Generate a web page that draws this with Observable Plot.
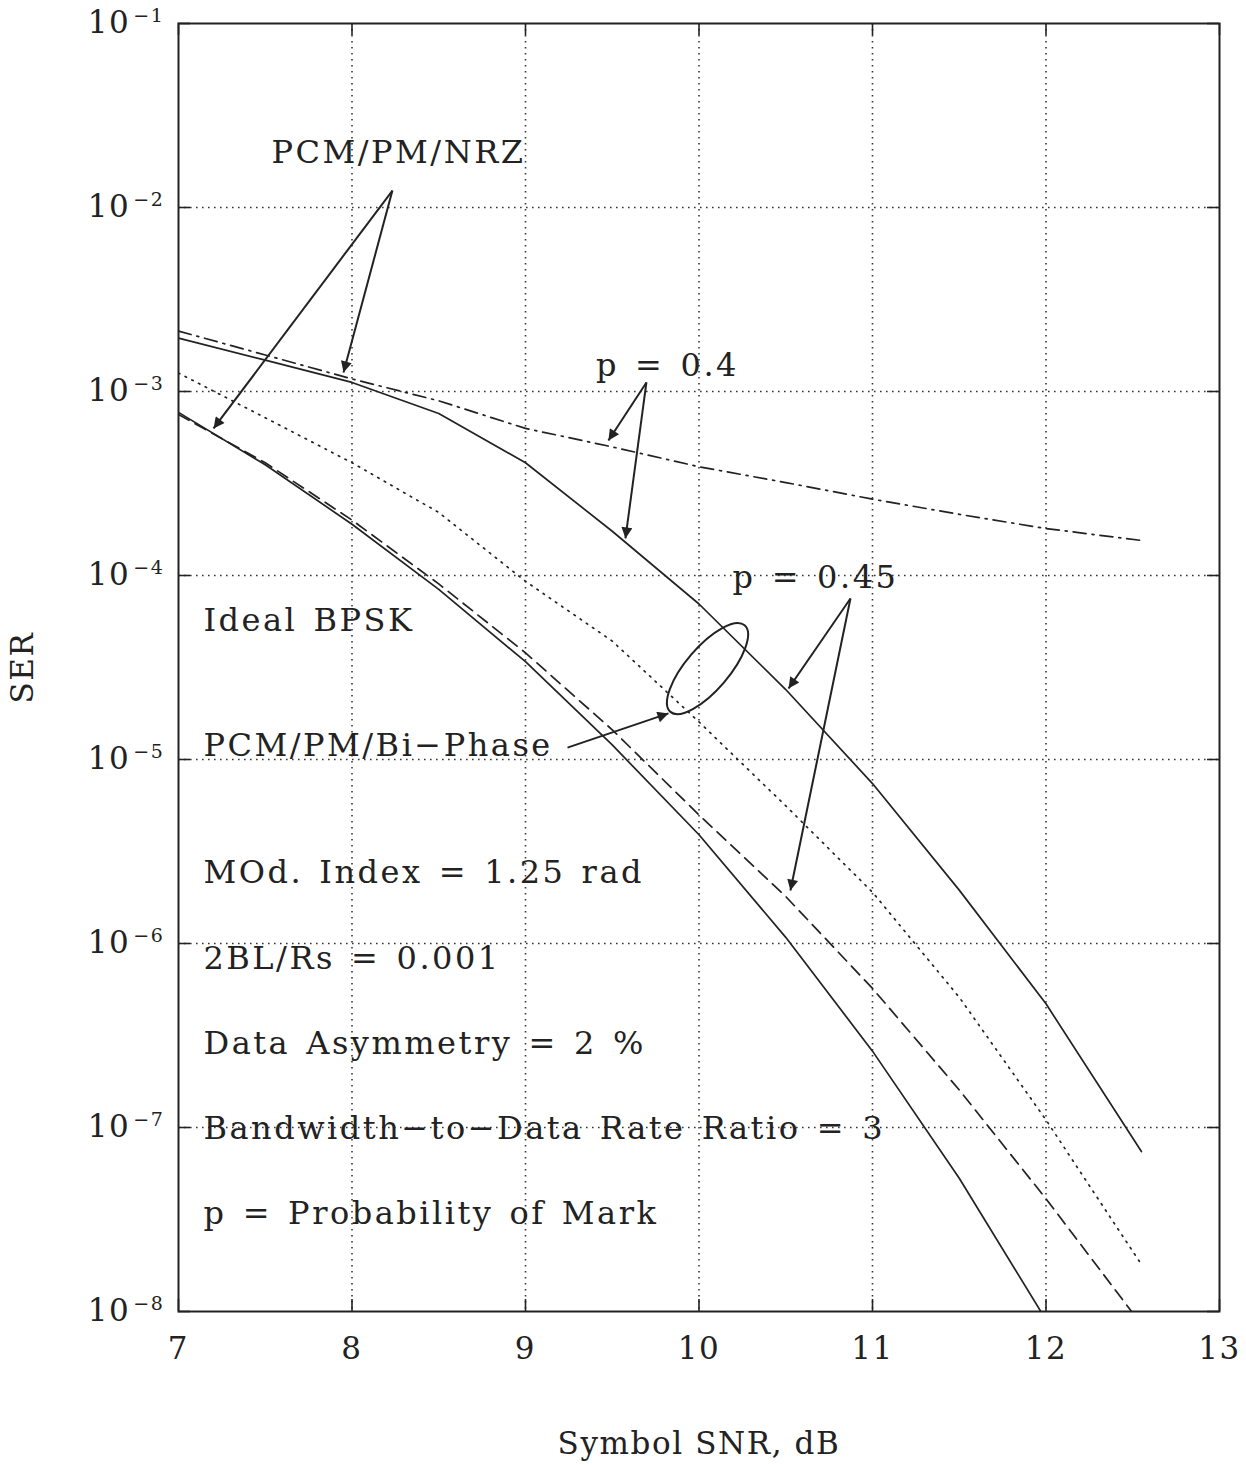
<!DOCTYPE html>
<html><head><meta charset="utf-8">
<script src="https://cdn.jsdelivr.net/npm/d3@7"></script>
<script src="https://cdn.jsdelivr.net/npm/@observablehq/plot@0.6"></script>
<style>
html,body{margin:0;padding:0;background:#fff;}
svg text{white-space:pre;}
g[aria-label="text"] text{letter-spacing:2.5px;word-spacing:3.5px;}
</style>
</head><body><div id="chart"></div>
<script>
// ---- data ----
const snr = [7, 7.5, 8, 8.5, 9, 9.5, 10, 10.5, 11, 11.5, 12, 12.55];
// solid, lowest curve (Ideal BPSK)
const serIdealBPSK   = [7.7e-4, 4.0e-4, 1.9e-4, 8.4e-5, 3.4e-5, 1.2e-5, 3.9e-6, 1.08e-6, 2.6e-7, 5.3e-8, 9.0e-9, null];
// dashed curve
const serDashed      = [7.5e-4, 4.1e-4, 2.0e-4, 9.0e-5, 3.8e-5, 1.45e-5, 5.0e-6, 1.8e-6, 5.7e-7, 1.6e-7, 4.1e-8, 8.5e-9];
// dotted curve
const serDotted      = [1.26e-3, 7.2e-4, 4.1e-4, 2.2e-4, 9.3e-5, 4.4e-5, 1.6e-5, 5.6e-6, 1.9e-6, 5.1e-7, 1.1e-7, 1.8e-8];
// upper solid curve
const serUpperSolid  = [1.95e-3, 1.48e-3, 1.12e-3, 7.6e-4, 4.1e-4, 1.74e-4, 7.0e-5, 2.4e-5, 7.4e-6, 1.95e-6, 4.7e-7, 7.4e-8];
// dash-dot curve
const serDashDot     = [2.13e-3, 1.58e-3, 1.17e-3, 8.9e-4, 6.3e-4, 5.0e-4, 3.9e-4, 3.2e-4, 2.6e-4, 2.15e-4, 1.8e-4, 1.55e-4];

const xTicks = [7, 8, 9, 10, 11, 12, 13];
const xGridTicks = [8, 9, 10, 11, 12];
const yTicks = [1e-8, 1e-7, 1e-6, 1e-5, 1e-4, 1e-3, 1e-2, 1e-1];
const yGridTicks = [1e-7, 1e-6, 1e-5, 1e-4, 1e-3, 1e-2];
const yTickExponents = [-8, -7, -6, -5, -4, -3, -2, -1];

// annotation texts (data coordinates)
const leftTexts = ["Ideal BPSK", "PCM/PM/Bi\u2212Phase", "MOd. Index = 1.25 rad", "2BL/Rs = 0.001",
                   "Data Asymmetry = 2 %", "Bandwidth\u2212to\u2212Data Rate Ratio = 3", "p = Probability of Mark"];
const leftTextX = [7.144, 7.144, 7.144, 7.144, 7.144, 7.144, 7.144];
const leftTextY = [5.69e-5, 1.19e-5, 2.43e-6, 8.28e-7, 2.86e-7, 9.9e-8, 3.41e-8];
const midTexts = ["PCM/PM/NRZ", "p = 0.4", "p = 0.45"];
const midTextX = [8.268, 9.818, 10.671];
const midTextY = [1.99e-2, 1.38e-3, 9.75e-5];

// arrows: tail (x1,y1) -> head (x2,y2)
const arrowX1 = [8.233, 8.233, 9.697, 9.697, 10.873, 10.873, 9.242];
const arrowY1 = [1.236e-2, 1.236e-2, 1.12e-3, 1.12e-3, 7.5e-5, 7.5e-5, 1.16e-5];
const arrowX2 = [7.202, 7.951, 9.478, 9.576, 10.516, 10.527, 9.824];
const arrowY2 = [6.30e-4, 1.27e-3, 5.42e-4, 1.59e-4, 2.43e-5, 1.94e-6, 1.78e-5];

// ellipse centre (data coordinates)
const ellipseCenter = {x: 10.052, y: 3.1e-5};

// ---- build tables ----
function series(name, xs, ys) {
  return xs.map((x, i) => ({name, x, y: ys[i]})).filter(d => d.y != null);
}
const ideal = series("Ideal BPSK", snr, serIdealBPSK);
const dashed = series("dashed", snr, serDashed);
const dotted = series("dotted", snr, serDotted);
const upper = series("upper solid", snr, serUpperSolid);
const dashdot = series("dash-dot", snr, serDashDot);
const leftLabels = leftTexts.map((t, i) => ({t, x: leftTextX[i], y: leftTextY[i]}));
const midLabels = midTexts.map((t, i) => ({t, x: midTextX[i], y: midTextY[i]}));
const arrows = arrowX1.map((_, i) => ({x1: arrowX1[i], y1: arrowY1[i], x2: arrowX2[i], y2: arrowY2[i]}));

const supMap = {"-": "\u207b", "0": "\u2070", "1": "\u00b9", "2": "\u00b2", "3": "\u00b3", "4": "\u2074",
                "5": "\u2075", "6": "\u2076", "7": "\u2077", "8": "\u2078", "9": "\u2079"};
const expOf = v => yTickExponents[yTicks.findIndex(t => Math.abs(t - v) / v < 1e-6)];

const ink = "#222";
const W = 1246, H = 1465, mL = 178, mR = 27, mT = 23, mB = 154;
const plotW = W - mL - mR, plotH = H - mT - mB;
const FONT = "'DejaVu Serif', serif";
const curveW = 1.7;

const plot = Plot.plot({
  width: W, height: H,
  marginLeft: mL, marginRight: mR, marginTop: mT, marginBottom: mB,
  style: {fontFamily: FONT, fontSize: "31px", color: ink, background: "#fff", letterSpacing: "1.6px"},
  x: {domain: [7, 13]},
  y: {type: "log", domain: [1e-8, 1e-1]},
  marks: [
    Plot.gridX(xGridTicks, {stroke: ink, strokeOpacity: 0.9, strokeWidth: 1.6, strokeDasharray: "1.6,4.4"}),
    Plot.gridY(yGridTicks, {stroke: ink, strokeOpacity: 0.9, strokeWidth: 1.6, strokeDasharray: "1.6,4.4"}),
    Plot.tickX(xTicks, {x: d => d, stroke: ink, strokeWidth: 1.6, insetTop: plotH - 12}),
    Plot.tickX(xTicks, {x: d => d, stroke: ink, strokeWidth: 1.6, insetBottom: plotH - 12}),
    Plot.tickY(yTicks, {y: d => d, stroke: ink, strokeWidth: 1.6, insetRight: plotW - 12}),
    Plot.tickY(yTicks, {y: d => d, stroke: ink, strokeWidth: 1.6, insetLeft: plotW - 12}),
    Plot.line(dashdot, {x: "x", y: "y", stroke: ink, strokeWidth: curveW, strokeDasharray: "13,6,2,6", clip: true}),
    Plot.line(dotted, {x: "x", y: "y", stroke: ink, strokeWidth: curveW, strokeDasharray: "1.5,6", strokeLinecap: "round", clip: true}),
    Plot.line(dashed, {x: "x", y: "y", stroke: ink, strokeWidth: curveW, strokeDasharray: "12,7", clip: true}),
    Plot.line(upper, {x: "x", y: "y", stroke: ink, strokeWidth: curveW, clip: true}),
    Plot.line(ideal, {x: "x", y: "y", stroke: ink, strokeWidth: curveW, clip: true}),
    Plot.frame({stroke: ink, strokeWidth: 2}),
    Plot.axisX(xTicks, {tickSize: 0, tickPadding: 25, tickFormat: d => String(d), fontSize: 31,
      label: "Symbol SNR, dB", labelAnchor: "center", labelOffset: 142, labelArrow: "none"}),
    Plot.axisY(yTicks, {tickSize: 0, tickPadding: 14, fontSize: 31,
      tickFormat: v => "10" + String(expOf(v)).split("").map(c => supMap[c]).join(""),
      label: "SER", labelAnchor: "center", labelOffset: 168, labelArrow: "none"}),
    Plot.link(arrows, {x1: "x1", y1: "y1", x2: "x2", y2: "y2", stroke: ink, strokeWidth: 2}),
    Plot.text(leftLabels, {x: "x", y: "y", text: "t", textAnchor: "start", fontSize: 32, fill: ink}),
    Plot.text(midLabels, {x: "x", y: "y", text: "t", textAnchor: "middle", fontSize: 32, fill: ink})
  ]
});

// ---- post-processing: filled arrowheads, ellipse, superscripts ----
const svg = d3.select(plot);
const defs = svg.append("defs");
defs.append("marker").attr("id", "tri").attr("viewBox", "0 0 10 10").attr("refX", 10).attr("refY", 5)
  .attr("markerWidth", 18).attr("markerHeight", 11).attr("markerUnits", "userSpaceOnUse").attr("orient", "auto")
  .append("path").attr("d", "M0,0L10,5L0,10z").attr("fill", ink);
svg.selectAll('g[aria-label="link"] path').attr("marker-end", "url(#tri)");

const sx = plot.scale("x"), sy = plot.scale("y");
const cx = sx.apply(ellipseCenter.x), cy = sy.apply(ellipseCenter.y);
svg.append("ellipse").attr("cx", cx).attr("cy", cy).attr("rx", 57).attr("ry", 21.5)
  .attr("transform", `rotate(-49.4 ${cx} ${cy})`).attr("fill", "none").attr("stroke", ink).attr("stroke-width", 2);

const revSup = Object.fromEntries(Object.entries(supMap).map(([k, v]) => [v, k === "-" ? "\u2212" : k]));
svg.selectAll('g[aria-label="y-axis tick label"] text').each(function() {
  const s = this.textContent;
  const exp = s.slice(2).split("").map(c => revSup[c] || c).join("");
  this.textContent = "";
  const t = d3.select(this);
  t.append("tspan").text("10");
  t.append("tspan").attr("dx", 3).attr("dy", "-0.62em").attr("font-size", 19).text(exp);
});

document.getElementById("chart").appendChild(plot);
</script>
</body></html>
